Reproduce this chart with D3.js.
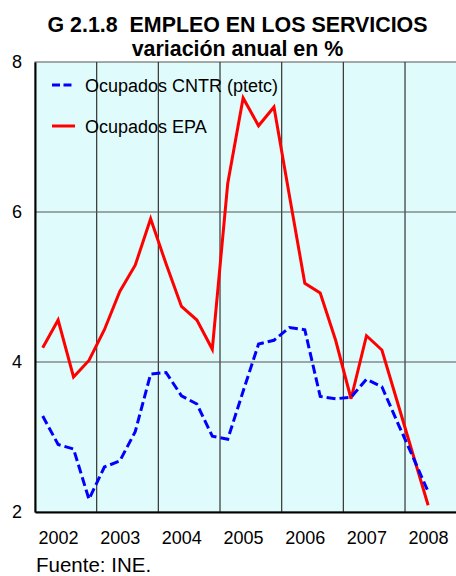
<!DOCTYPE html>
<html>
<head>
<meta charset="utf-8">
<script src="https://cdn.jsdelivr.net/npm/d3@7"></script>
<style>
  body { margin: 0; background: #fff; }
  svg { display: block; font-family: Arial, "Liberation Sans", sans-serif; }
</style>
</head>
<body>
<svg id="chart" width="456" height="576"></svg>
<script>
// years shown on the x axis
var years = [2002, 2003, 2004, 2005, 2006, 2007, 2008];
var yTicks = [2, 4, 6, 8];

// quarterly data, 2002 Q1 .. 2008 Q2
var epa = [4.19, 4.56, 3.80, 4.02,
           4.43, 4.94, 5.29, 5.91,
           5.31, 4.74, 4.56, 4.17,
           6.38, 7.52, 7.15, 7.40,
           6.22, 5.05, 4.92, 4.29,
           3.51, 4.35, 4.16, 3.47,
           2.78, 2.09];
var cntr = [3.28, 2.90, 2.84, 2.17,
            2.60, 2.68, 3.07, 3.84,
            3.86, 3.55, 3.44, 3.01,
            2.97, 3.61, 4.24, 4.29,
            4.46, 4.43, 3.54, 3.51,
            3.53, 3.77, 3.67, 3.20,
            2.74, 2.27];

var svg = d3.select('#chart');
var padLeft = 35, padTop = 62, padBottom = 512;
var yearW = 61.67;

// x in years, a point sits in the middle of its quarter
var x = d3.scaleLinear().domain([2002, 2009]).range([padLeft, padLeft + 7 * yearW]);
var y = d3.scaleLinear().domain([2, 8]).range([padBottom, padTop]);
function qx(i) { return x(2002 + i / 4 + 0.125); }

// title
svg.append('text').attr('x', 237.5).attr('y', 31.5)
    .attr('text-anchor', 'middle').attr('font-weight', 'bold').attr('font-size', 21.4)
    .style('white-space', 'pre')
    .text('G 2.1.8  EMPLEO EN LOS SERVICIOS');
svg.append('text').attr('x', 237.5).attr('y', 55.5)
    .attr('text-anchor', 'middle').attr('font-weight', 'bold').attr('font-size', 21.4)
    .text('variación anual en %');

// plot background
svg.append('rect')
    .attr('x', x(2002)).attr('y', y(8))
    .attr('width', x(2009) - x(2002)).attr('height', y(2) - y(8))
    .attr('fill', '#e0fbfb').attr('stroke', '#555').attr('stroke-width', 1);

// grid
svg.append('g').selectAll('line').data(years.slice(1)).enter().append('line')
    .attr('x1', function(d) { return x(d); }).attr('x2', function(d) { return x(d); })
    .attr('y1', y(8)).attr('y2', y(2))
    .attr('stroke', '#333').attr('stroke-width', 1.2);
svg.append('g').selectAll('line').data([4, 6]).enter().append('line')
    .attr('x1', x(2002)).attr('x2', x(2009))
    .attr('y1', function(d) { return y(d); }).attr('y2', function(d) { return y(d); })
    .attr('stroke', '#555').attr('stroke-width', 1.2);

// axes
var yAxis = svg.append('g').attr('transform', 'translate(' + padLeft + ',0)')
    .call(d3.axisLeft(y).tickValues(yTicks).tickSize(0).tickPadding(13)
        .tickFormat(d3.format('d')));
yAxis.select('.domain').attr('stroke', '#000').attr('stroke-width', 2);
yAxis.selectAll('text').attr('font-size', 18).attr('fill', '#000')
    .attr('font-family', 'Arial, "Liberation Sans", sans-serif');

var xAxis = svg.append('g').attr('transform', 'translate(0,' + padBottom + ')')
    .call(d3.axisBottom(x).tickValues(years).tickSize(0).tickPadding(19)
        .tickFormat(d3.format('d')));
xAxis.select('.domain').attr('stroke', '#000').attr('stroke-width', 2);
xAxis.selectAll('text').attr('font-size', 18).attr('fill', '#000')
    .attr('text-anchor', 'start').attr('dx', 3)
    .attr('font-family', 'Arial, "Liberation Sans", sans-serif');

// lines
var line = d3.line().x(function(d, i) { return qx(i); }).y(function(d) { return y(d); });
svg.append('path').datum(epa).attr('d', line)
    .attr('fill', 'none').attr('stroke', '#ff0000').attr('stroke-width', 3);
svg.append('path').datum(cntr).attr('d', line)
    .attr('fill', 'none').attr('stroke', '#0000ff').attr('stroke-width', 3)
    .attr('stroke-dasharray', '9,4');

// legend
var legend = [
    {name: 'Ocupados CNTR (ptetc)', color: '#0000ff', dash: '8,3.5', y: 85},
    {name: 'Ocupados EPA', color: '#ff0000', dash: null, y: 126}
];
var lg = svg.append('g').selectAll('g').data(legend).enter().append('g');
lg.append('line')
    .attr('x1', 52).attr('x2', 75)
    .attr('y1', function(d) { return d.y; }).attr('y2', function(d) { return d.y; })
    .attr('stroke', function(d) { return d.color; }).attr('stroke-width', 3)
    .attr('stroke-dasharray', function(d) { return d.dash; });
lg.append('text')
    .attr('x', 85).attr('y', function(d) { return d.y + 7; })
    .attr('font-size', 18).attr('fill', '#000')
    .text(function(d) { return d.name; });

// source
svg.append('text').attr('x', 36).attr('y', 572)
    .attr('font-size', 20.5).attr('fill', '#000')
    .text('Fuente: INE.');
</script>
</body>
</html>
